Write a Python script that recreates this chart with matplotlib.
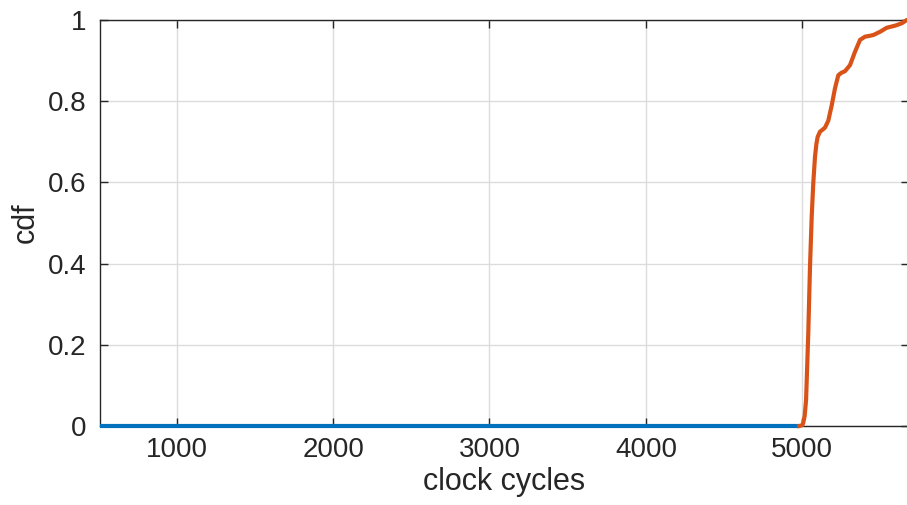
import matplotlib
matplotlib.use('Agg')
import matplotlib.pyplot as plt
import numpy as np

plt.rcParams['font.family'] = ['Liberation Sans', 'DejaVu Sans']

# 数据：近似值
blue_x = [510, 4980]
blue_y = [0, 0]

orange_x = [4980, 5000, 5006, 5015, 5024, 5038, 5049, 5060, 5070, 5081, 5090, 5098,
            5113, 5130, 5145, 5166, 5188, 5209, 5230, 5250, 5273, 5305, 5337, 5369,
            5401, 5430, 5454, 5497, 5540, 5593, 5636, 5668, 5690]
orange_y = [0, 0.002, 0.008, 0.025, 0.064, 0.228, 0.392, 0.516, 0.598, 0.663, 0.695, 0.712,
            0.725, 0.730, 0.735, 0.752, 0.790, 0.832, 0.864, 0.870, 0.874, 0.889, 0.922, 0.951,
            0.959, 0.961, 0.963, 0.971, 0.981, 0.986, 0.992, 1.0, 1.0]

x_ticks = [1000, 2000, 3000, 4000, 5000]
y_ticks = [0, 0.2, 0.4, 0.6, 0.8, 1]
y_labels = ['0', '0.2', '0.4', '0.6', '0.8', '1']

fig = plt.figure(figsize=(9.07, 5.05), dpi=100)
ax = fig.add_axes([100 / 907, 79 / 505, 809 / 907, 406 / 505])

# 线条放在坐标轴之上，0 处不被裁掉
ax.plot(blue_x, blue_y, color='#0072BD', lw=3.0, solid_capstyle='butt',
        clip_on=False, zorder=3)
ax.plot(orange_x, orange_y, color='#D95319', lw=3.0, solid_joinstyle='round',
        clip_on=False, zorder=3)

ax.set_xlim(510, 5682)
ax.set_ylim(0, 1)
ax.set_xticks(x_ticks)
ax.set_xticklabels([str(t) for t in x_ticks])
ax.set_yticks(y_ticks)
ax.set_yticklabels(y_labels)

ax.grid(True, color='#dcdcdc', lw=1.0)
ax.set_axisbelow(True)
for s in ax.spines.values():
    s.set_color('#262626')
    s.set_linewidth(1.0)

ax.tick_params(direction='in', length=6, width=1.0, colors='#262626',
               labelsize=20, top=True, right=True)
ax.tick_params(axis='x', pad=8)
ax.tick_params(axis='y', pad=10)

ax.set_xlabel('clock cycles', fontsize=22, color='#262626', labelpad=3)
ax.set_ylabel('cdf', fontsize=22, color='#262626', labelpad=5)

fig.savefig('out.png', dpi=100)
